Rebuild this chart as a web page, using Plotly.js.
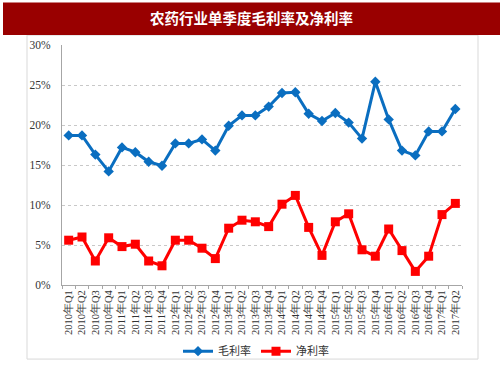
<!DOCTYPE html>
<html>
<head>
<meta charset="utf-8">
<script src="https://cdn.plot.ly/plotly-3.0.1.min.js"></script>
<style>html,body{margin:0;padding:0;background:#fff;}#chart{width:503px;height:378px;}</style>
</head>
<body>
<div id="chart"></div>
<script>
const quarters = ["2010年Q1","2010年Q2","2010年Q3","2010年Q4","2011年Q1","2011年Q2","2011年Q3","2011年Q4","2012年Q1","2012年Q2","2012年Q3","2012年Q4","2013年Q1","2013年Q2","2013年Q3","2013年Q4","2014年Q1","2014年Q2","2014年Q3","2014年Q4","2015年Q1","2015年Q2","2015年Q3","2015年Q4","2016年Q1","2016年Q2","2016年Q3","2016年Q4","2017年Q1","2017年Q2"];
const grossMargin = [18.7,18.7,16.3,14.2,17.2,16.6,15.4,14.9,17.7,17.7,18.2,16.8,19.9,21.2,21.2,22.3,24.0,24.1,21.4,20.5,21.5,20.3,18.3,25.4,20.7,16.8,16.2,19.2,19.2,22.0];
const netMargin = [5.6,6.0,3.0,5.9,4.8,5.1,3.0,2.4,5.6,5.6,4.6,3.3,7.1,8.1,7.9,7.3,10.1,11.2,7.2,3.7,7.9,8.9,4.4,3.6,7.0,4.3,1.7,3.6,8.8,10.2];
const seriesNames = ["毛利率","净利率"];
const titleText = "农药行业单季度毛利率及净利率";

const L = 62, R = 462, T = 45, B = 288;
const W = R - L, H = B - T;
const px = v => (v - L) / W;
const py = v => (B - v) / H;

const traces = [
  {x: quarters, y: grossMargin, name: seriesNames[0], type: 'scatter', mode: 'lines+markers',
   line: {color: '#0A6EC0', width: 3}, marker: {symbol: 'diamond', size: 8, color: '#0A6EC0'}},
  {x: quarters, y: netMargin, name: seriesNames[1], type: 'scatter', mode: 'lines+markers',
   line: {color: '#FF0000', width: 3}, marker: {symbol: 'square', size: 9, color: '#FF0000'}}
];

const layout = {
  width: 503, height: 378,
  margin: {l: L, r: 503 - R, t: T, b: 378 - B, pad: 0},
  paper_bgcolor: '#ffffff', plot_bgcolor: '#ffffff',
  showlegend: true,
  title: {text: '<b>' + titleText + '</b>', font: {family: 'Noto Sans CJK SC', size: 14.5, color: '#ffffff'},
          x: 0.5, xref: 'container', xanchor: 'center', y: 1 - 18.5/378, yref: 'container', yanchor: 'middle'},
  xaxis: {type: 'category', showgrid: false, showline: true, linecolor: '#a6a6a6', linewidth: 1,
          ticks: 'outside', ticklen: 3, tickcolor: '#a6a6a6', tickson: 'boundaries', tickangle: -90,
          tickfont: {family: 'Liberation Serif', size: 10.5, color: '#333333'}, zeroline: false,
          range: [-0.5, quarters.length - 0.5]},
  yaxis: {range: [0, 30], dtick: 5, ticksuffix: '%', showgrid: true, gridcolor: '#c8c8c8', griddash: 'dot',
          showline: true, linecolor: '#a6a6a6', linewidth: 1, zeroline: false, ticks: '', ticklabelstandoff: 8,
          tickfont: {family: 'Liberation Serif', size: 11.5, color: '#333333'}},
  legend: {orientation: 'h', x: px(256), xanchor: 'center', y: py(355), yanchor: 'middle',
           font: {family: 'Noto Sans CJK SC', size: 11, color: '#333333'}, bgcolor: 'rgba(0,0,0,0)',
           itemwidth: 30, tracegroupgap: 0},
  shapes: [
    {type: 'rect', xref: 'paper', yref: 'paper', x0: px(27), x1: px(478), y0: py(363), y1: py(35),
     line: {color: '#d9d9d9', width: 1}, fillcolor: 'rgba(0,0,0,0)', layer: 'below'},
    {type: 'rect', xref: 'paper', yref: 'paper', x0: px(3), x1: px(500), y0: py(35), y1: py(2),
     line: {width: 0}, fillcolor: '#990000', layer: 'below'}
  ]
};

Plotly.newPlot('chart', traces, layout, {displayModeBar: false, staticPlot: true});
</script>
</body>
</html>
